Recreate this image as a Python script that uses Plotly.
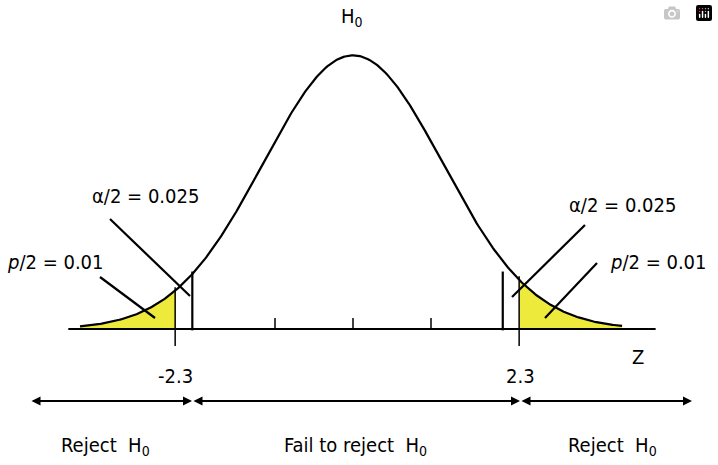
import numpy as np
import plotly.graph_objects as go

# values (z units / density units)
sd = 1.15
peak = 0.40
tail_z = [-2.28, 2.13]      # where "±2.3" is marked
crit_z = [-2.06, 1.92]      # alpha/2 critical lines
tick_z = [-1, 0, 1]
curve_range = [-3.5, 3.45]
axis_range = [-3.65, 3.88]
tail_labels = ["-2.3", "2.3"]

def pdf(z):
    return peak * np.exp(-np.asarray(z) ** 2 / (2 * sd ** 2))

FONT = "Liberation Sans Narrow, DejaVu Sans Condensed, sans-serif"
fig = go.Figure()

z = np.linspace(curve_range[0], curve_range[1], 400)
zl = np.linspace(curve_range[0], tail_z[0], 80)
fig.add_trace(go.Scatter(x=np.r_[zl, tail_z[0], curve_range[0]], y=np.r_[pdf(zl), 0, 0],
                         fill="toself", fillcolor="#eeea3c", line=dict(width=0), mode="lines"))
zr = np.linspace(tail_z[1], curve_range[1], 80)
fig.add_trace(go.Scatter(x=np.r_[zr, curve_range[1], tail_z[1]], y=np.r_[pdf(zr), 0, 0],
                         fill="toself", fillcolor="#eeea3c", line=dict(width=0), mode="lines"))
fig.add_trace(go.Scatter(x=z, y=pdf(z), mode="lines", line=dict(color="black", width=2.2)))
fig.add_trace(go.Scatter(x=axis_range, y=[0, 0], mode="lines", line=dict(color="black", width=2)))
for t in tick_z:
    fig.add_trace(go.Scatter(x=[t, t], y=[0, 0.016], mode="lines", line=dict(color="black", width=1.5)))
for c in crit_z:
    fig.add_trace(go.Scatter(x=[c, c], y=[-0.002, 0.084], mode="lines", line=dict(color="black", width=2.2)))
for t in tail_z:
    fig.add_trace(go.Scatter(x=[t, t], y=[-0.025, float(pdf(t)) + 0.005], mode="lines",
                             line=dict(color="black", width=1.5)))

def px(x):  # pixel -> z
    return (x - 353) / 78
def py(y):  # pixel -> density
    return (329 - y) / 684

for (x0, y0, x1, y1) in [(110, 219, 190, 296), (100, 277, 155, 318),
                         (585, 225, 512, 297), (597, 263, 545, 318)]:
    fig.add_trace(go.Scatter(x=[px(x0), px(x1)], y=[py(y0), py(y1)], mode="lines",
                             line=dict(color="black", width=2.2)))

ann = []
def txt(x, y, s, size=20):
    ann.append(dict(x=px(x), y=py(y), text=s, showarrow=False, font=dict(family=FONT, size=size, color="black")))
txt(352, 17, "H<sub>0</sub>")
txt(145, 196, "α/2 = 0.025")
txt(55, 262, "<i>p</i>/2 = 0.01")
txt(622, 205, "α/2 = 0.025")
txt(658, 262, "<i>p</i>/2 = 0.01")
txt(638, 357, "Z")
txt(175, 376, tail_labels[0])
txt(520, 376, tail_labels[1])
txt(105, 446, "Reject  H<sub>0</sub>")
txt(355, 446, "Fail to reject  H<sub>0</sub>")
txt(612, 446, "Reject  H<sub>0</sub>")
for (a, b) in [(30, 192), (192, 520), (520, 692)]:
    ann.append(dict(x=px(b), y=py(401), ax=px(a), ay=py(401), axref="x", ayref="y",
                    xref="x", yref="y", showarrow=True, arrowhead=2, arrowside="end+start",
                    arrowsize=1, arrowwidth=1.8, arrowcolor="black", text=""))

fig.update_layout(width=718, height=465, margin=dict(l=0, r=0, t=0, b=0),
                  plot_bgcolor="white", paper_bgcolor="white", showlegend=False,
                  annotations=ann,
                  xaxis=dict(range=[px(0), px(718)], visible=False, fixedrange=True),
                  yaxis=dict(range=[py(465), py(0)], visible=False, fixedrange=True))
fig.write_html("out.html")
with open("out.html", encoding="utf-8") as f:
    html = f.read()
html = html.replace("<head>", "<head><style>html,body{margin:0;padding:0;overflow:hidden}</style>", 1)
with open("out.html", "w", encoding="utf-8") as f:
    f.write(html)
